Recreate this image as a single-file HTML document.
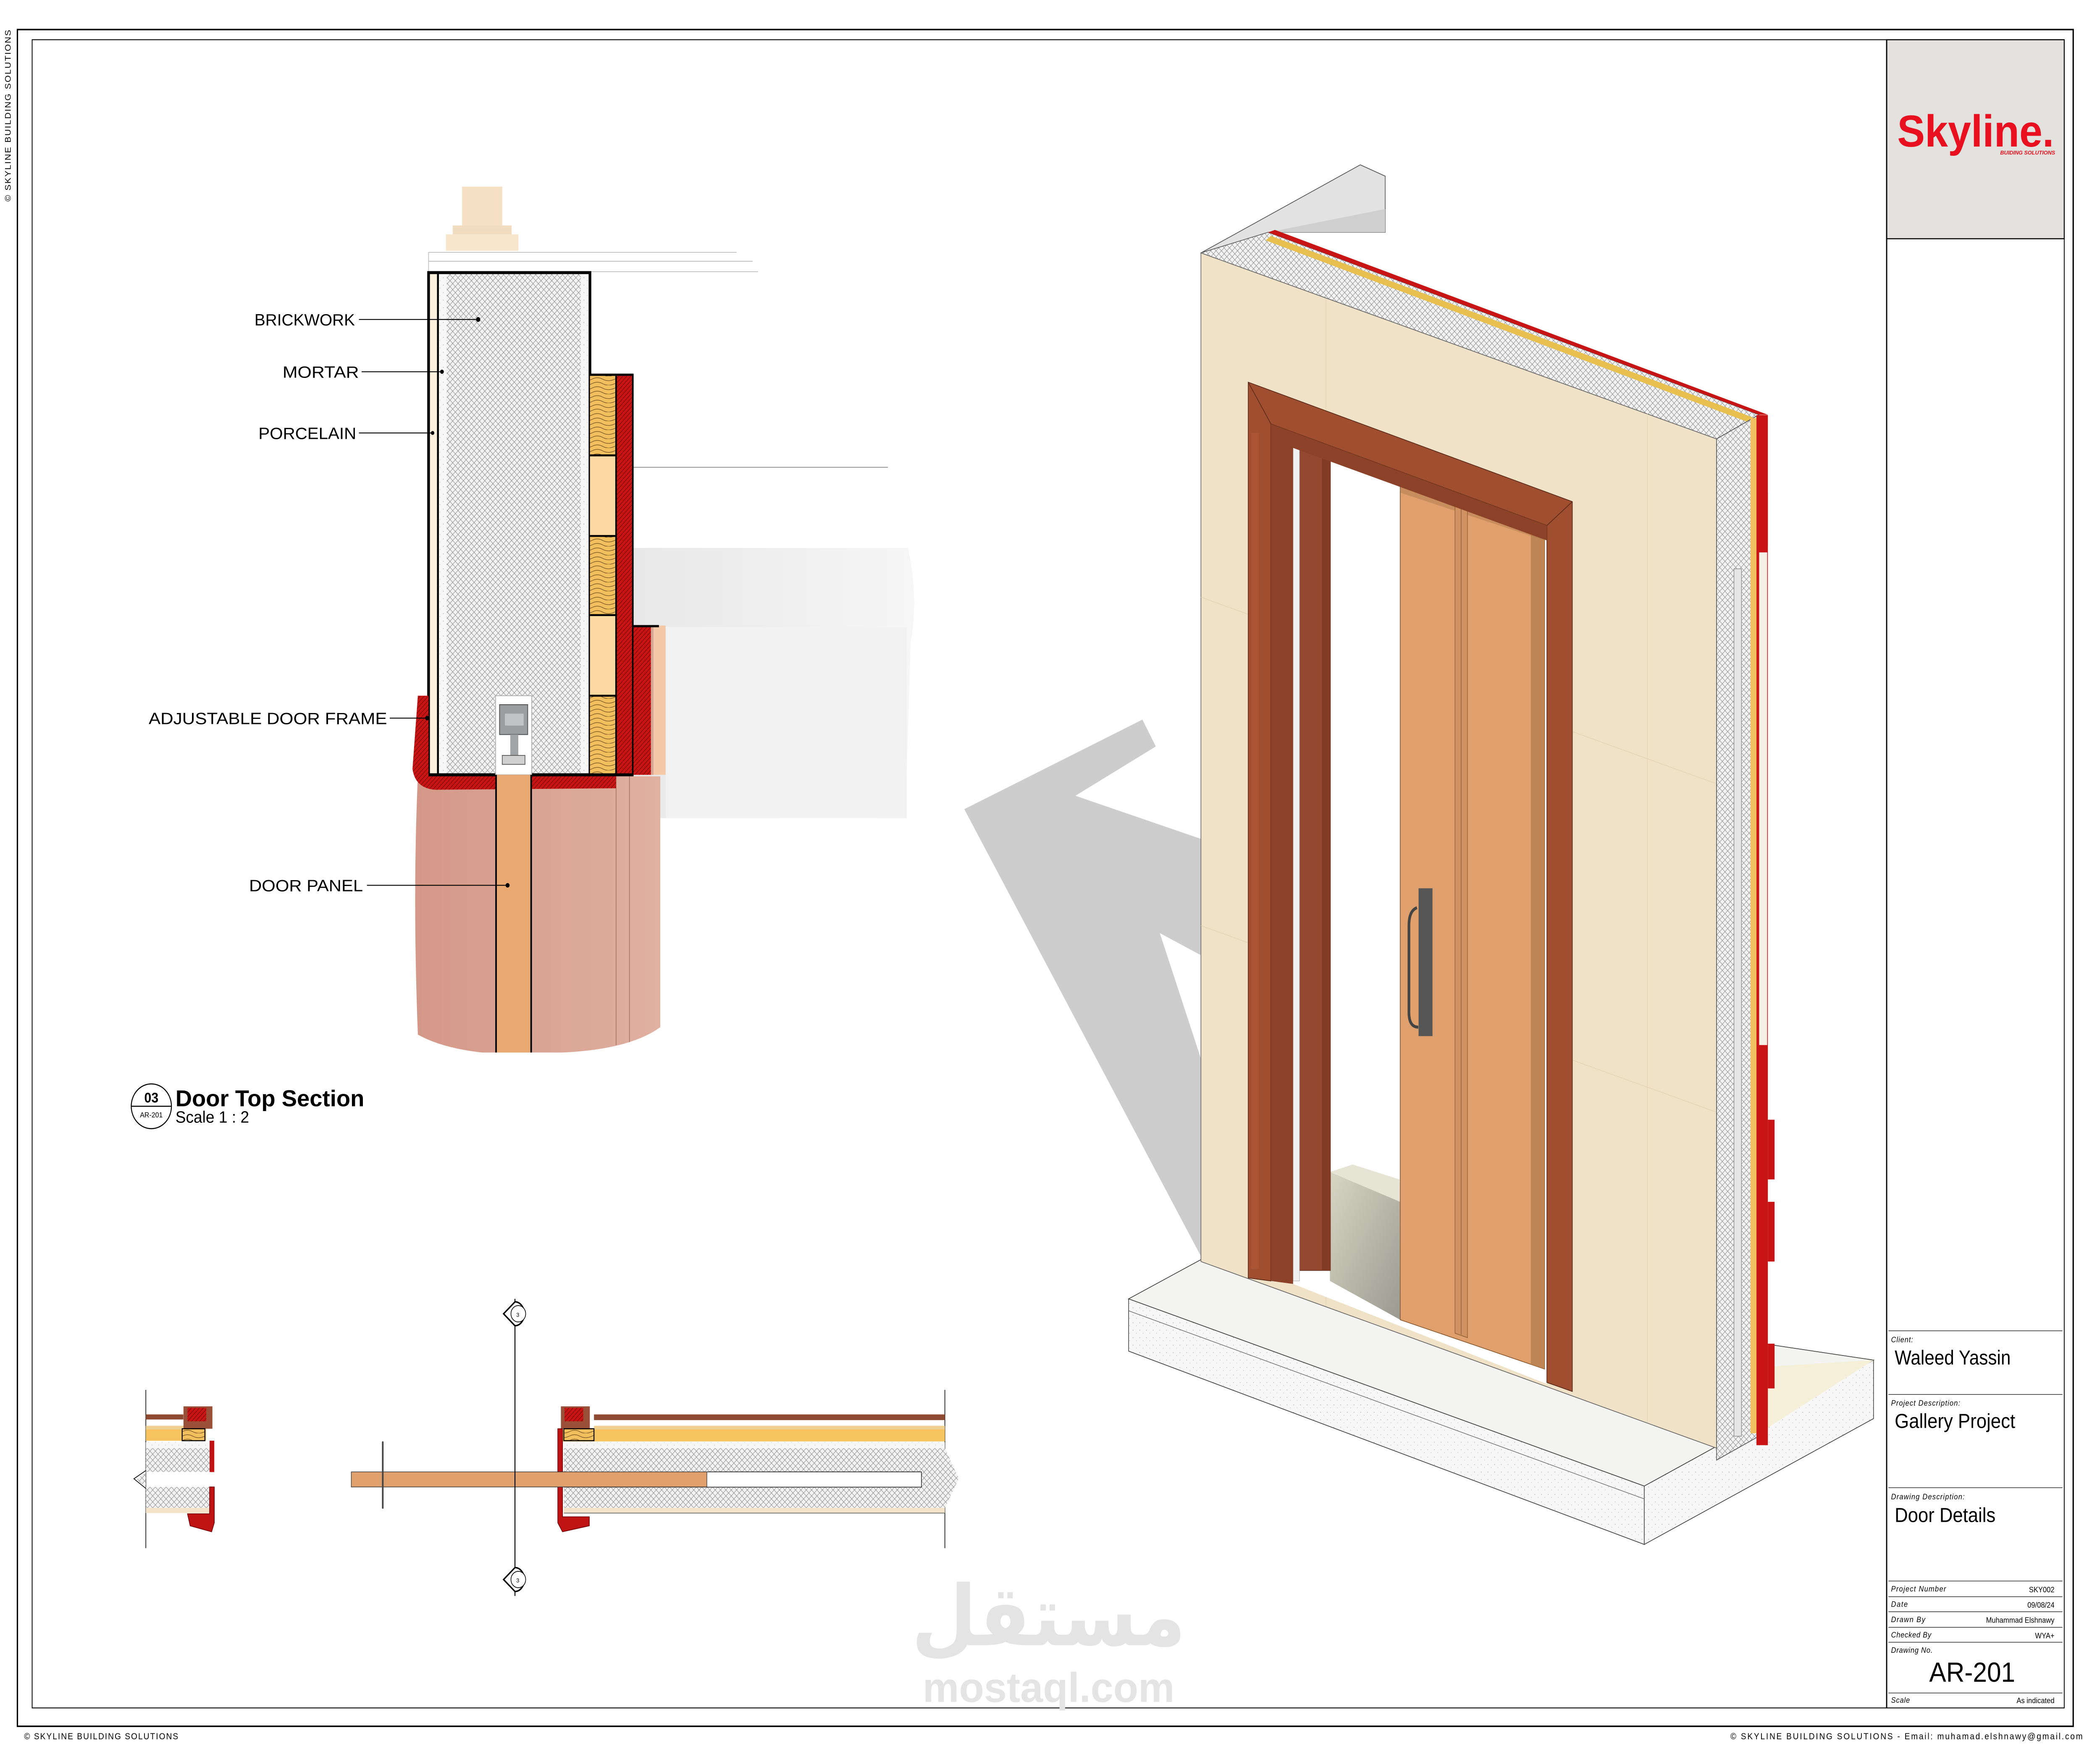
<!DOCTYPE html>
<html><head><meta charset="utf-8"><style>html,body{margin:0;padding:0;background:#fff;width:100%;height:100%;overflow:hidden}svg{display:block;width:100vw;height:100vh;position:absolute;left:0;top:0}</style></head>
<body>
<svg xmlns="http://www.w3.org/2000/svg" viewBox="0 0 1568 1169.5" preserveAspectRatio="none" font-family="Liberation Sans, sans-serif">
<defs>
<pattern id="hx" width="4" height="4" patternUnits="userSpaceOnUse"><rect width="4" height="4" fill="#f3f3f3"/><path d="M0 0L4 4M4 0L0 4" stroke="#8a8a8a" stroke-width="0.3"/></pattern>
<pattern id="rd" width="3" height="3" patternUnits="userSpaceOnUse"><rect width="3" height="3" fill="#c91414"/><path d="M0 3L3 0" stroke="#6a0a0a" stroke-width="0.35"/></pattern>
<pattern id="wd" width="17" height="6" patternUnits="userSpaceOnUse"><rect width="17" height="6" fill="#f1bf5e"/><path d="M0 2Q4 0 8 2T17 2M0 5Q4 3 8 5T17 5" stroke="#5a3a10" stroke-width="0.3" fill="none"/></pattern>
<pattern id="st" width="5" height="5" patternUnits="userSpaceOnUse"><rect width="5" height="5" fill="#f7f7f7"/><circle cx="1" cy="1" r="0.25" fill="#999"/><circle cx="3.5" cy="3" r="0.2" fill="#999"/></pattern>
<linearGradient id="pk" x1="0" x2="1"><stop offset="0" stop-color="#d49888"/><stop offset="1" stop-color="#e0b0a0"/></linearGradient>
<linearGradient id="sg" x1="0" x2="1"><stop offset="0" stop-color="#e8e8e8"/><stop offset="1" stop-color="#f6f6f6"/></linearGradient>
<linearGradient id="fl" x1="0" y1="0" x2="1" y2="1"><stop offset="0" stop-color="#d8d6c4"/><stop offset="1" stop-color="#9a9a90"/></linearGradient>
</defs>
<rect width="1568" height="1169.5" fill="#fff"/>

<rect x="13" y="19.8" width="1535" height="1136.5" fill="none" stroke="#000" stroke-width="1"/>
<rect x="24" y="26.6" width="1517.3" height="1117.4" fill="none" stroke="#000" stroke-width="0.6"/>
<text x="8" y="135" font-size="6" transform="rotate(-90 8 135)" textLength="115">© SKYLINE BUILDING SOLUTIONS</text>
<text x="18" y="1165" font-size="6" textLength="115">© SKYLINE BUILDING SOLUTIONS</text>
<text x="1292" y="1165" font-size="6" textLength="263">© SKYLINE BUILDING SOLUTIONS - Email: muhamad.elshnawy@gmail.com</text>

<rect x="1408.7" y="26.6" width="132.6" height="133.3" fill="#e2e1dd" stroke="#000" stroke-width="0.7"/>
<line x1="1408.7" y1="26.6" x2="1408.7" y2="1144" stroke="#000" stroke-width="0.9"/>
<text x="1416.6" y="98.1" font-size="30" font-weight="bold" fill="#e8101e" textLength="117" lengthAdjust="spacingAndGlyphs">Skyline.</text>
<text x="1493.5" y="103.5" font-size="3.6" font-weight="bold" font-style="italic" fill="#e8101e" textLength="41" lengthAdjust="spacingAndGlyphs">BUIDING SOLUTIONS</text>
<g stroke="#000" stroke-width="0.35">
<line x1="1410" y1="891.4" x2="1540" y2="891.4"/><line x1="1410" y1="934" x2="1540" y2="934"/>
<line x1="1410" y1="996.5" x2="1540" y2="996.5"/><line x1="1410" y1="1059" x2="1540" y2="1059"/>
<line x1="1410" y1="1069.5" x2="1540" y2="1069.5"/><line x1="1410" y1="1079.6" x2="1540" y2="1079.6"/>
<line x1="1410" y1="1090" x2="1540" y2="1090"/><line x1="1410" y1="1100" x2="1540" y2="1100"/>
<line x1="1410" y1="1134" x2="1540" y2="1134"/>
</g>
<g font-size="5.2" font-style="italic">
<text x="1412" y="899" textLength="16.4">Client:</text>
<text x="1412" y="941.5" textLength="51.6">Project Description:</text>
<text x="1412" y="1004.3" textLength="54.9">Drawing Description:</text>
<text x="1412" y="1066" textLength="41">Project Number</text>
<text x="1412" y="1076.3" textLength="12.4">Date</text>
<text x="1412" y="1086.5" textLength="25.5">Drawn By</text>
<text x="1412" y="1096.8" textLength="30">Checked By</text>
<text x="1412" y="1107" textLength="31">Drawing No.</text>
<text x="1412" y="1140.5" textLength="14">Scale</text>
</g>
<g font-size="5.2" text-anchor="end">
<text x="1534" y="1066.5">SKY002</text>
<text x="1534" y="1076.8">09/08/24</text>
<text x="1534" y="1087">Muhammad Elshnawy</text>
<text x="1534" y="1097.3">WYA+</text>
<text x="1534" y="1140.8">As indicated</text>
</g>
<text x="1414.7" y="914" font-size="13.5" textLength="86.6" lengthAdjust="spacingAndGlyphs">Waleed Yassin</text>
<text x="1414.7" y="956.5" font-size="13.5" textLength="90" lengthAdjust="spacingAndGlyphs">Gallery Project</text>
<text x="1414.7" y="1019.5" font-size="13.5" textLength="75.3" lengthAdjust="spacingAndGlyphs">Door Details</text>
<text x="1440.5" y="1126.5" font-size="18.5" textLength="64.2" lengthAdjust="spacingAndGlyphs">AR-201</text>

<text x="783" y="1102" font-size="56" font-family="DejaVu Sans, sans-serif" font-weight="bold" fill="#e4e4e4" text-anchor="middle">مستقل</text>
<text x="783" y="1140" font-size="28" font-weight="bold" fill="#e4e4e4" text-anchor="middle" textLength="188" lengthAdjust="spacingAndGlyphs">mostaql.com</text>

<path d="M473 367 L678 367 Q686 400 680 430 L676 548 L473 548 Z" fill="url(#sg)"/>
<rect x="497" y="420" width="180" height="128" fill="#f2f2f2"/>
<line x1="473" y1="313" x2="663" y2="313" stroke="#999" stroke-width="0.6"/>
<g stroke="#bbb" stroke-width="0.5"><line x1="320" y1="169" x2="550" y2="169"/><line x1="320" y1="175" x2="562" y2="175"/><line x1="440" y1="182" x2="566" y2="182"/><line x1="320" y1="169" x2="320" y2="182"/></g>
<rect x="345" y="125" width="30" height="27" fill="#f6e0c4"/>
<rect x="338" y="151" width="44" height="7" fill="#f2dcc0"/>
<rect x="333" y="157" width="54" height="11" fill="#f8e6cc"/>
<path d="M312 520 L493 520 L493 688 Q470 703 420 705 L360 705 Q330 702 312 693 Q308 600 312 520 Z" fill="url(#pk)"/>
<line x1="460" y1="520" x2="460" y2="700" stroke="#a87060" stroke-width="0.5"/>
<line x1="470" y1="520" x2="470" y2="698" stroke="#a87060" stroke-width="0.5"/>
<rect x="486" y="419" width="11" height="100" fill="#f5c8a8"/>
<rect x="480" y="419" width="8" height="100" fill="#d8a896"/>
<rect x="320" y="182.6" width="120.5" height="336.4" fill="#fbf0dc"/>
<rect x="327" y="182.6" width="7" height="336.4" fill="url(#st)"/>
<rect x="333.6" y="182.6" width="100" height="336.4" fill="url(#hx)"/>
<rect x="433.7" y="182.6" width="6" height="336.4" fill="url(#st)"/>
<line x1="327" y1="182.6" x2="327" y2="519" stroke="#000" stroke-width="1.4"/>
<rect x="320" y="182.6" width="120.5" height="336.4" fill="none" stroke="#000" stroke-width="2"/>
<rect x="440.5" y="251" width="19.5" height="54" fill="url(#wd)"/>
<rect x="440.5" y="305" width="19.5" height="54" fill="#fcd9a0"/>
<rect x="440.5" y="359" width="19.5" height="53" fill="url(#wd)"/>
<rect x="440.5" y="412" width="19.5" height="54" fill="#fcd9a0"/>
<rect x="440.5" y="466" width="19.5" height="53" fill="url(#wd)"/>
<g stroke="#000" stroke-width="1.3"><line x1="440.5" y1="305" x2="460" y2="305"/><line x1="440.5" y1="359" x2="460" y2="359"/><line x1="440.5" y1="412" x2="460" y2="412"/><line x1="440.5" y1="466" x2="460" y2="466"/></g>
<rect x="460" y="251" width="12.5" height="268" fill="url(#rd)" stroke="#000" stroke-width="1.2"/>
<path d="M440.5 251 L473 251" stroke="#000" stroke-width="1.5"/>
<rect x="473" y="419.4" width="13" height="99.6" fill="url(#rd)"/>
<line x1="473" y1="419.4" x2="492" y2="419.4" stroke="#000" stroke-width="1.5"/>
<path d="M312 466 L320 466 L320 519 L460 519 L460 528 L325 529 Q310 528 308 515 Z" fill="url(#rd)"/>
<line x1="320" y1="519" x2="473" y2="519" stroke="#000" stroke-width="2"/>
<rect x="370" y="466" width="27" height="53" fill="#fff" stroke="#aaa" stroke-width="0.5"/>
<rect x="373" y="472" width="21" height="20" fill="#9a9ea0" stroke="#555" stroke-width="0.6"/>
<rect x="377" y="478" width="14" height="8" fill="#c0c4c6"/>
<rect x="381" y="492" width="6" height="14" fill="#a0a4a6"/>
<rect x="375" y="506" width="17" height="6" fill="#d0d0d0" stroke="#555" stroke-width="0.5"/>
<rect x="370.4" y="519" width="26.2" height="186" fill="#e8a870"/>
<line x1="370.4" y1="519" x2="370.4" y2="705" stroke="#000" stroke-width="1.2"/>
<line x1="396.6" y1="519" x2="396.6" y2="705" stroke="#000" stroke-width="1.2"/>
<g font-size="11" stroke="none">
<text x="190" y="218" textLength="75" lengthAdjust="spacingAndGlyphs">BRICKWORK</text>
<text x="211" y="253" textLength="57" lengthAdjust="spacingAndGlyphs">MORTAR</text>
<text x="193" y="294" textLength="73" lengthAdjust="spacingAndGlyphs">PORCELAIN</text>
<text x="111" y="485" textLength="178" lengthAdjust="spacingAndGlyphs">ADJUSTABLE DOOR FRAME</text>
<text x="186" y="597" textLength="85" lengthAdjust="spacingAndGlyphs">DOOR PANEL</text>
</g>
<g stroke="#000" stroke-width="0.6"><line x1="268" y1="214" x2="357" y2="214"/><line x1="270" y1="249" x2="330" y2="249"/><line x1="268" y1="290" x2="323" y2="290"/><line x1="291" y1="481" x2="319" y2="481"/><line x1="274" y1="593" x2="379" y2="593"/></g>
<g fill="#000"><circle cx="357" cy="214" r="1.6"/><circle cx="330" cy="249" r="1.4"/><circle cx="323" cy="290" r="1.3"/><circle cx="319" cy="481" r="1.5"/><circle cx="379" cy="593" r="1.5"/></g>
<ellipse cx="113" cy="741" rx="15" ry="15" fill="#fff" stroke="#000" stroke-width="0.7"/>
<line x1="98" y1="741" x2="128" y2="741" stroke="#000" stroke-width="0.7"/>
<text x="113" y="738.5" font-size="9.5" font-weight="bold" text-anchor="middle">03</text>
<text x="113" y="748.5" font-size="5" text-anchor="middle">AR-201</text>
<text x="131" y="741" font-size="15.5" font-weight="bold" textLength="141" lengthAdjust="spacingAndGlyphs">Door Top Section</text>
<text x="131" y="752" font-size="11" textLength="55" lengthAdjust="spacingAndGlyphs">Scale 1 : 2</text>

<g stroke="#000" stroke-width="0.5">
<line x1="108.9" y1="931" x2="108.9" y2="1037"/><line x1="705.5" y1="931" x2="705.5" y2="1037"/>
</g>
<rect x="108.9" y="947.4" width="28" height="3.4" fill="#8e4a30"/>
<rect x="108.9" y="957" width="45" height="8" fill="#f6c35e"/>
<rect x="108.9" y="955" width="45" height="2.5" fill="#f0d090"/>
<rect x="108.9" y="966" width="47" height="4" fill="url(#st)"/>
<path d="M108.9 970 L157 970 L157 985.9 L108.9 985.9 L102 991 L108.9 996 L157 996 L157 1010 L108.9 1010 Z" fill="url(#hx)"/>
<path d="M108.9 985 L100 990.5 L108.9 997" fill="none" stroke="#000" stroke-width="0.5"/>
<rect x="108.9" y="1010" width="48" height="3.5" fill="#f3e3c8"/>
<rect x="137" y="942" width="21.6" height="15" fill="#9a5038"/>
<rect x="140" y="943" width="14" height="9" fill="url(#rd)"/>
<rect x="136" y="957" width="17" height="8" fill="url(#wd)" stroke="#000" stroke-width="0.7"/>
<path d="M156.5 996 L160 996 L160 1020 L158 1026 L142 1022 L140 1014 L156.5 1014 Z" fill="#c01414" stroke="#700" stroke-width="0.5"/>
<rect x="156.5" y="965" width="3.5" height="21" fill="#c01414"/>
<rect x="443.5" y="947.4" width="262" height="3.8" fill="#8e4a30"/>
<rect x="443.5" y="955" width="262" height="2.8" fill="#f0d090"/>
<rect x="418.8" y="957.5" width="286.7" height="8" fill="#f6c35e"/>
<rect x="418.8" y="966" width="286.7" height="4" fill="url(#st)"/>
<path d="M421 970 L705.5 970 L713 985 L716 990 L705.5 1010 L421 1010 Z" fill="url(#hx)"/>
<rect x="421" y="985.9" width="267" height="10.2" fill="#fff" stroke="#000" stroke-width="0.4"/>
<rect x="421" y="1010" width="284.5" height="3.5" fill="#f3e3c8"/>
<line x1="421" y1="1013.5" x2="705.5" y2="1013.5" stroke="#555" stroke-width="0.4"/>
<rect x="418.8" y="942" width="21.6" height="15" fill="#9a5038"/>
<rect x="421.5" y="943" width="14" height="9" fill="url(#rd)"/>
<rect x="421" y="957" width="22.5" height="8" fill="url(#wd)" stroke="#000" stroke-width="0.7"/>
<path d="M416.5 957 L420 957 L420 1016 L440 1016 L440 1022 L420 1026 L416.5 1020 Z" fill="#c01414" stroke="#700" stroke-width="0.5"/>
<rect x="262.3" y="985.9" width="265.5" height="10.1" fill="#dfa06e" stroke="#333" stroke-width="0.4"/>
<line x1="285.8" y1="966" x2="285.8" y2="1010" stroke="#444" stroke-width="1.2" stroke-linecap="round"/>
<line x1="384.5" y1="870" x2="384.5" y2="1069" stroke="#000" stroke-width="0.7"/>
<g fill="#fff" stroke="#000" stroke-width="1"><path d="M384.5 872 L376 880 L384.5 888 A7 8 0 0 0 384.5 872Z"/><path d="M384.5 1050 L376 1058 L384.5 1066 A7 8 0 0 0 384.5 1050Z"/></g>
<circle cx="387" cy="880" r="5.5" fill="#fff" stroke="#000" stroke-width="0.5"/>
<circle cx="387" cy="1058" r="5.5" fill="#fff" stroke="#000" stroke-width="0.5"/>
<text x="385.5" y="882" font-size="4">3</text><text x="385.5" y="1060" font-size="4">3</text>

<path d="M720 542 L853 482 L863 500 L803 533 L897 562 L897 640 L866 625 L897 710 L897 842 Z" fill="#cdcdcd"/>
<path d="M842.7 870 L896.7 843.7 L1398.9 911 L1227.7 995.4 Z" fill="#f3f3f1" stroke="#444" stroke-width="0.5"/>
<path d="M842.7 870 L1227.7 995.4 L1227.7 1034.5 L842.7 905 Z" fill="url(#st)" stroke="#444" stroke-width="0.5"/>
<path d="M1227.7 995.4 L1398.9 911 L1398.9 950.2 L1227.7 1034.5 Z" fill="url(#st)" stroke="#444" stroke-width="0.5"/>
<line x1="842.7" y1="878" x2="1227.7" y2="1004" stroke="#666" stroke-width="0.4"/>
<path d="M1310 916 L1398.9 911 L1310 962 Z" fill="#f6f0d8"/>
<path d="M896.7 169.4 L1015.7 110.4 L1034.3 118 L1034.3 155.6 L946.9 155.6 Z" fill="#e2e2e2" stroke="#555" stroke-width="0.5"/>
<path d="M946.9 155.6 L1034.3 155.6 L1034.3 140 Z" fill="#cfcfcf"/>
<path d="M896.7 169.4 L946.9 155.6 L1313.3 277.8 L1281.7 294 Z" fill="url(#hx)" stroke="#555" stroke-width="0.4"/>
<path d="M946.9 155.6 L1313.3 277.8 L1320 277.8 L952 154 Z" fill="#c81414"/>
<path d="M949 158 L1310 280 L1306 283 L945 161 Z" fill="#e8c050"/>
<path d="M896.7 169.4 L1281.7 294 L1281.7 970 L896.7 845 Z" fill="#efe2c6" stroke="#666" stroke-width="0.5"/>
<g stroke="#e2d4b4" stroke-width="0.4"><line x1="990" y1="200" x2="990" y2="875"/><line x1="1230" y1="277" x2="1230" y2="953"/><line x1="896.7" y1="400" x2="1281.7" y2="525"/><line x1="896.7" y1="620" x2="1281.7" y2="745"/></g>
<path d="M1281.7 294 L1313.3 277.8 L1313.3 962 L1281.7 978 Z" fill="url(#hx)" stroke="#555" stroke-width="0.5"/>
<rect x="1294.7" y="381" width="5.6" height="581" fill="#e6e6e6" stroke="#888" stroke-width="0.4"/>
<rect x="1307" y="280" width="6" height="680" fill="#f1c060"/>
<rect x="1311.5" y="278" width="8.5" height="690" fill="#c81414"/>
<rect x="1314" y="330" width="6" height="36" fill="#c81414"/>
<rect x="1313.5" y="370" width="6" height="330" fill="#f4f0e6"/>
<rect x="1320" y="750" width="5" height="40" fill="#c81414"/>
<rect x="1320" y="805" width="5" height="40" fill="#c81414"/>
<rect x="1320" y="900" width="5" height="30" fill="#c81414"/>
<path d="M965.5 290 L1155 352 L1155 927 L965.5 860 Z" fill="#fff"/>
<path d="M993 785 L1045.5 805 L1045.5 884 L993 858 Z" fill="url(#fl)"/>
<path d="M993 785 L1010 780 L1045 790 L1045.5 805 Z" fill="#e6e4d4"/>
<path d="M1045.5 316.3 L1153.3 348.2 L1153.3 917 L1045.5 884 Z" fill="#dfa06e" stroke="#8a5a30" stroke-width="0.5"/>
<path d="M1143 345 L1153.3 348.2 L1153.3 917 L1143 914 Z" fill="#b07a4a" opacity="0.7"/>
<path d="M1045.5 316.3 L1153.3 348.2 L1153.3 362 L1045.5 330 Z" fill="#b07a4a" opacity="0.5"/>
<path d="M1086.4 330 L1095.7 332.6 L1095.7 896 L1086.4 893 Z" fill="#cf9260" stroke="#8a5a30" stroke-width="0.4"/>
<line x1="1091" y1="331" x2="1091" y2="894" stroke="#8a5a30" stroke-width="0.4"/>
<rect x="1059.2" y="595" width="10.4" height="99" fill="#555"/>
<path d="M1058 608 Q1052 610 1052 620 L1052 678 Q1052 688 1059 688" fill="none" stroke="#444" stroke-width="2"/>
<path d="M970.3 292 L993.4 300 L993.4 851 L970.3 851 Z" fill="#94482f" stroke="#5a2a18" stroke-width="0.4"/>
<rect x="987" y="298" width="6.4" height="553" fill="#823c26"/>
<rect x="965.5" y="290" width="4.8" height="568" fill="#f0f0f0" stroke="#aaa" stroke-width="0.3"/>
<path d="M932 256 L1174 336 L1174 932 L1155 926 L1155 352 L949 284 L949 858 L932 856 Z" fill="#a04e30" stroke="#5a2a18" stroke-width="0.5"/>
<path d="M949 284 L1155 352 L1155 362 L965.5 300 L965.5 860 L949 858 Z" fill="#8c4228"/>
<path d="M932 256 L949 284" stroke="#5a2a18" stroke-width="0.5"/>
<path d="M1174 336 L1155 352" stroke="#5a2a18" stroke-width="0.5"/>
<rect x="934" y="290" width="6" height="560" fill="#b25a38" opacity="0.6"/>
</svg>
</body></html>
